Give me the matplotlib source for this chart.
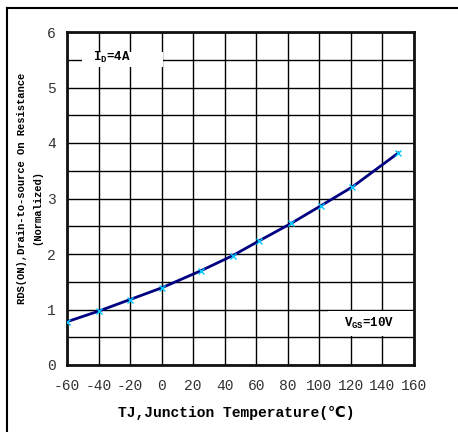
import matplotlib
matplotlib.use("Agg")
import matplotlib.pyplot as plt
from matplotlib.lines import Line2D
from matplotlib.patches import Rectangle

temps = [-60, -40, -20, 0, 25, 45, 62, 82, 101, 121, 150]
rds = [0.78, 0.97, 1.18, 1.39, 1.70, 1.97, 2.24, 2.55, 2.87, 3.21, 3.82]
xticks = [-60, -40, -20, 0, 20, 40, 60, 80, 100, 120, 140, 160]
yticks = [0, 1, 2, 3, 4, 5, 6]

mono = ['Liberation Mono', 'DejaVu Sans Mono', 'DejaVu Sans']
plt.rcParams['font.family'] = mono
plt.rcParams['mathtext.fontset'] = 'custom'
plt.rcParams['mathtext.rm'] = 'Liberation Mono:bold'
plt.rcParams['mathtext.bf'] = 'Liberation Mono:bold'

fig = plt.figure(figsize=(4.58, 4.32), dpi=100)
W, H = 458, 432
ax = fig.add_axes([67 / W, 1 - 365 / H, 347 / W, 333 / H])

ax.set_xlim(-60, 160)
ax.set_ylim(0, 6)
ax.set_xticks(xticks)
ax.set_xticklabels([str(t) for t in xticks])
ax.set_yticks(yticks)
ax.set_yticklabels([str(t) for t in yticks])
ax.set_yticks([0.5, 1.5, 2.5, 3.5, 4.5, 5.5], minor=True)
ax.grid(True, which='major', color='black', linewidth=1.0)
ax.grid(True, which='minor', axis='y', color='black', linewidth=1.0)
ax.set_axisbelow(True)
ax.tick_params(axis='both', which='both', length=0, labelsize=10.5, colors='#333333')
ax.tick_params(axis='x', pad=10)
ax.tick_params(axis='y', pad=8)
for s in ax.spines.values():
    s.set_linewidth(2.0)
    s.set_color('#111111')

ax.plot(temps, rds, color='#000080', linewidth=2.0, zorder=3)
ax.plot(temps, rds, linestyle='none', marker='x', color='#00c8ff',
        markersize=4, markeredgewidth=1.0, zorder=4)

# label boxes covering gridlines
ax.add_patch(Rectangle((-50.5, 5.37), 51.4, 0.27, facecolor='white', edgecolor='none', zorder=2.5))
ax.text(-43.5, 5.55, r'I$_\mathrm{D}$=4A', fontsize=9, fontweight='bold',
        va='center', ha='left', zorder=5)
ax.add_patch(Rectangle((105.5, 0.52), 54.5, 0.46, facecolor='white', edgecolor='none', zorder=2.5))
ax.text(131.5, 0.74, r'V$_\mathrm{GS}$=10V', fontsize=9, fontweight='bold',
        va='center', ha='center', zorder=5)

fig.text(236 / W, 1 - 413 / H, 'TJ,Junction Temperature(℃)', fontsize=10.5,
         fontweight='bold', ha='center', va='center')
fig.text(22 / W, 1 - 188 / H, 'RDS(ON),Drain-to-source On Resistance', fontsize=7.6,
         fontweight='bold', ha='center', va='center', rotation=90)
fig.text(37 / W, 1 - 207 / H, '(Normalized)', fontsize=7.6,
         fontweight='bold', ha='center', va='center', rotation=90)

# outer frame (left and top edges)
fig.add_artist(Line2D([7 / W, 7 / W], [0, 1 - 8 / H], transform=fig.transFigure,
                      color='black', linewidth=1.5))
fig.add_artist(Line2D([7 / W, 1], [1 - 8 / H, 1 - 8 / H], transform=fig.transFigure,
                      color='black', linewidth=1.5))

fig.savefig('out.png', dpi=100)
